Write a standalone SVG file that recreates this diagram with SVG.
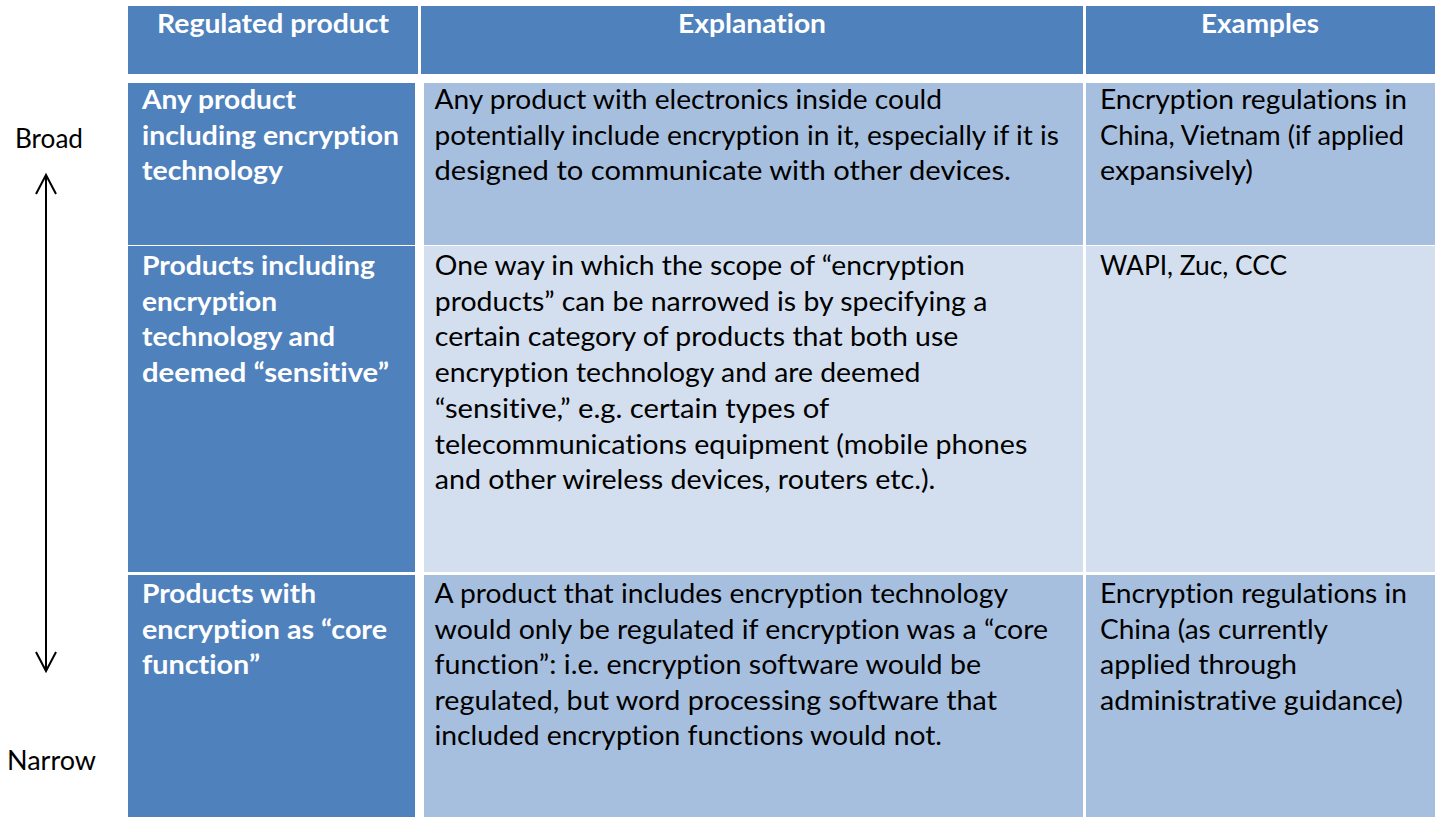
<svg xmlns="http://www.w3.org/2000/svg" width="1435" height="817" viewBox="0 0 1435 817">
<style>
.hd{fill:#4F81BD}
.l1{fill:#A7BFDE}
.l2{fill:#D3DFEE}
text{font-family:Lato,"Open Sans","Liberation Sans",sans-serif;font-size:27px;font-variant-ligatures:none;font-feature-settings:"liga" 0,"dlig" 0,"clig" 0}
.w{fill:#FFFFFF;font-weight:bold}
.b{fill:#000000}
.side{fill:#000000;font-size:26px}
.conn{stroke:#000000;stroke-width:2;fill:none}
</style>
<defs>
<marker id="openArrow" markerUnits="userSpaceOnUse" viewBox="0 0 20 22" markerWidth="20" markerHeight="22" refX="19" refY="11" orient="auto-start-reverse" overflow="visible">
<path d="M0,1 L19,11 L0,21" fill="none" stroke="#000000" stroke-width="2"/>
</marker>
</defs>
<rect width="1435" height="817" fill="#FFFFFF"/>

<g id="header-regulated-product">
<rect class="hd" x="128" y="6" width="290" height="68"/>
<text class="w" x="157" y="33" textLength="232" lengthAdjust="spacingAndGlyphs">Regulated product</text>
</g>
<g id="header-explanation">
<rect class="hd" x="421" y="6" width="662" height="68"/>
<text class="w" x="678" y="33" textLength="148" lengthAdjust="spacingAndGlyphs">Explanation</text>
</g>
<g id="header-examples">
<rect class="hd" x="1086" y="6" width="349" height="68"/>
<text class="w" x="1201" y="33" textLength="118" lengthAdjust="spacingAndGlyphs">Examples</text>
</g>

<g id="row1-product">
<rect class="hd" x="128" y="83" width="287" height="162"/>
<text class="w" x="142" y="109" textLength="154" lengthAdjust="spacingAndGlyphs">Any product</text>
<text class="w" x="142" y="144.7" textLength="257" lengthAdjust="spacingAndGlyphs">including encryption</text>
<text class="w" x="142" y="180.4" textLength="141" lengthAdjust="spacingAndGlyphs">technology</text>
</g>
<g id="row1-explanation">
<rect class="l1" x="424" y="83" width="659" height="162"/>
<text class="b" x="434.5" y="109" textLength="507.5" lengthAdjust="spacingAndGlyphs">Any product with electronics inside could</text>
<text class="b" x="434.5" y="144.7" textLength="624.5" lengthAdjust="spacingAndGlyphs">potentially include encryption in it, especially if it is</text>
<text class="b" x="434.5" y="180.4" textLength="576.5" lengthAdjust="spacingAndGlyphs">designed to communicate with other devices.</text>
</g>
<g id="row1-examples">
<rect class="l1" x="1086" y="83" width="349" height="162"/>
<text class="b" x="1100" y="109" textLength="307" lengthAdjust="spacingAndGlyphs">Encryption regulations in</text>
<text class="b" x="1100" y="144.7" textLength="304" lengthAdjust="spacingAndGlyphs">China, Vietnam (if applied</text>
<text class="b" x="1100" y="180.4" textLength="153" lengthAdjust="spacingAndGlyphs">expansively)</text>
</g>

<g id="row2-product">
<rect class="hd" x="128" y="246" width="287" height="326"/>
<text class="w" x="142" y="275" textLength="233" lengthAdjust="spacingAndGlyphs">Products including</text>
<text class="w" x="142" y="310.7" textLength="135" lengthAdjust="spacingAndGlyphs">encryption</text>
<text class="w" x="142" y="346.4" textLength="193" lengthAdjust="spacingAndGlyphs">technology and</text>
<text class="w" x="142" y="382.1" textLength="247" lengthAdjust="spacingAndGlyphs">deemed “sensitive”</text>
</g>
<g id="row2-explanation">
<rect class="l2" x="424" y="246" width="659" height="326"/>
<text class="b" x="434.8" y="275" textLength="530" lengthAdjust="spacingAndGlyphs">One way in which the scope of “encryption</text>
<text class="b" x="434.8" y="310.7" textLength="552.5" lengthAdjust="spacingAndGlyphs">products” can be narrowed is by specifying a</text>
<text class="b" x="434.8" y="346.4" textLength="523.5" lengthAdjust="spacingAndGlyphs">certain category of products that both use</text>
<text class="b" x="434.8" y="382.1" textLength="485.5" lengthAdjust="spacingAndGlyphs">encryption technology and are deemed</text>
<text class="b" x="434.8" y="417.8" textLength="394.5" lengthAdjust="spacingAndGlyphs">“sensitive,” e.g. certain types of</text>
<text class="b" x="434.8" y="453.5" textLength="592.5" lengthAdjust="spacingAndGlyphs">telecommunications equipment (mobile phones</text>
<text class="b" x="434.8" y="489.2" textLength="500.5" lengthAdjust="spacingAndGlyphs">and other wireless devices, routers etc.).</text>
</g>
<g id="row2-examples">
<rect class="l2" x="1086" y="246" width="349" height="326"/>
<text class="b" x="1100" y="275" textLength="187" lengthAdjust="spacingAndGlyphs">WAPI, Zuc, CCC</text>
</g>

<g id="row3-product">
<rect class="hd" x="128" y="575" width="287" height="242"/>
<text class="w" x="142" y="603" textLength="174" lengthAdjust="spacingAndGlyphs">Products with</text>
<text class="w" x="142" y="638.5" textLength="245" lengthAdjust="spacingAndGlyphs">encryption as “core</text>
<text class="w" x="142" y="674" textLength="118" lengthAdjust="spacingAndGlyphs">function”</text>
</g>
<g id="row3-explanation">
<rect class="l1" x="424" y="575" width="659" height="242"/>
<text class="b" x="434.5" y="603" textLength="573.5" lengthAdjust="spacingAndGlyphs">A product that includes encryption technology</text>
<text class="b" x="434.5" y="638.5" textLength="613.5" lengthAdjust="spacingAndGlyphs">would only be regulated if encryption was a “core</text>
<text class="b" x="434.5" y="674" textLength="546.5" lengthAdjust="spacingAndGlyphs">function”: i.e. encryption software would be</text>
<text class="b" x="434.5" y="709.5" textLength="562.5" lengthAdjust="spacingAndGlyphs">regulated, but word processing software that</text>
<text class="b" x="434.5" y="745" textLength="507.5" lengthAdjust="spacingAndGlyphs">included encryption functions would not.</text>
</g>
<g id="row3-examples">
<rect class="l1" x="1086" y="575" width="349" height="242"/>
<text class="b" x="1100" y="603" textLength="307" lengthAdjust="spacingAndGlyphs">Encryption regulations in</text>
<text class="b" x="1100" y="638.5" textLength="228" lengthAdjust="spacingAndGlyphs">China (as currently</text>
<text class="b" x="1100" y="674" textLength="197" lengthAdjust="spacingAndGlyphs">applied through</text>
<text class="b" x="1100" y="709.5" textLength="303" lengthAdjust="spacingAndGlyphs">administrative guidance)</text>
</g>

<g id="label-broad">
<text class="side" x="15" y="148" textLength="68" lengthAdjust="spacingAndGlyphs">Broad</text>
</g>
<g id="label-narrow">
<text class="side" x="7" y="770" textLength="89" lengthAdjust="spacingAndGlyphs">Narrow</text>
</g>

<g id="connectors">
<line class="conn" x1="46" y1="175" x2="46" y2="671" marker-start="url(#openArrow)" marker-end="url(#openArrow)"/>
</g>
</svg>
